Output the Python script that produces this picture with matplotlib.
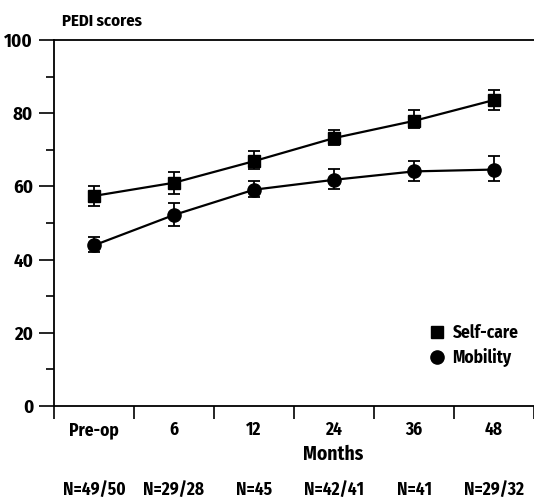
import matplotlib
matplotlib.use("Agg")
import matplotlib.pyplot as plt
from matplotlib.lines import Line2D
from matplotlib.ticker import MultipleLocator, FixedLocator, NullFormatter

plt.rcParams['font.family'] = ['Fira Sans Condensed', 'DejaVu Sans']
plt.rcParams['font.weight'] = 'bold'

# data
categories = ["Pre-op", "6", "12", "24", "36", "48"]
n_labels = ["N=49/50", "N=29/28", "N=45", "N=42/41", "N=41", "N=29/32"]

selfcare = [57.4, 61.0, 66.9, 73.2, 77.9, 83.6]
selfcare_hi = [60.1, 63.8, 69.7, 75.4, 80.9, 86.3]
selfcare_lo = [54.6, 57.9, 64.8, 71.3, 75.9, 80.9]

mobility = [43.9, 52.2, 59.1, 61.8, 64.1, 64.6]
mobility_hi = [46.3, 55.4, 61.6, 64.7, 67.0, 68.3]
mobility_lo = [42.2, 49.2, 57.0, 59.3, 61.5, 61.5]

fig = plt.figure(figsize=(5.34, 4.99), dpi=100)
ax = fig.add_axes([54 / 534, 1 - 406 / 499, 480 / 534, 366 / 499])

x = list(range(len(categories)))


def err(vals, hi, lo):
    return [[v - l for v, l in zip(vals, lo)], [h - v for v, h in zip(vals, hi)]]


ax.errorbar(x, selfcare, yerr=err(selfcare, selfcare_hi, selfcare_lo), color="black",
            marker="s", ms=8.5, lw=1.6, elinewidth=1.3, capsize=4.5, capthick=1.3,
            zorder=3)
ax.errorbar(x, mobility, yerr=err(mobility, mobility_hi, mobility_lo), color="black",
            marker="o", ms=9.5, lw=1.6, elinewidth=1.3, capsize=4.5, capthick=1.3,
            zorder=3)

ax.set_xlim(-0.5, 5.5)
ax.set_ylim(0, 100)
ax.spines['right'].set_visible(False)
for s in ['left', 'bottom', 'top']:
    ax.spines[s].set_linewidth(1.3)

ax.yaxis.set_major_locator(MultipleLocator(20))
ax.yaxis.set_minor_locator(MultipleLocator(10))
ax.tick_params(axis='y', which='major', length=11, width=1.2, labelsize=13.5, pad=4)
ax.tick_params(axis='y', which='minor', length=6, width=1.2)

ax.xaxis.set_major_locator(FixedLocator(x))
ax.set_xticklabels(categories)
ax.xaxis.set_minor_locator(FixedLocator([i + 0.5 for i in range(-1, 6)]))
ax.xaxis.set_minor_formatter(NullFormatter())
ax.tick_params(axis='x', which='major', length=0, labelsize=12.5, pad=11)
ax.tick_params(axis='x', which='minor', length=9, width=1.2)

fig.text(62 / 534, 1 - 21 / 499, "PEDI scores", fontsize=12, va='center', ha='left')
fig.text(333 / 534, 1 - 454 / 499, "Months", fontsize=14, va='center', ha='center')
for i, lab in enumerate(n_labels):
    xf = (54 + 80 * (i + 0.5)) / 534
    fig.text(xf, 1 - 490 / 499, lab, fontsize=12.5, va='center', ha='center')

handles = [Line2D([], [], color="black", marker="s", ms=9, ls="none"),
           Line2D([], [], color="black", marker="o", ms=9.5, ls="none")]
ax.legend(handles, ["Self-care", "Mobility"], loc='lower right',
          bbox_to_anchor=(1.0, 0.065), frameon=False, fontsize=12.5,
          handlelength=0.8, handletextpad=0.5, labelspacing=0.35)

fig.savefig("out.png", dpi=100)
